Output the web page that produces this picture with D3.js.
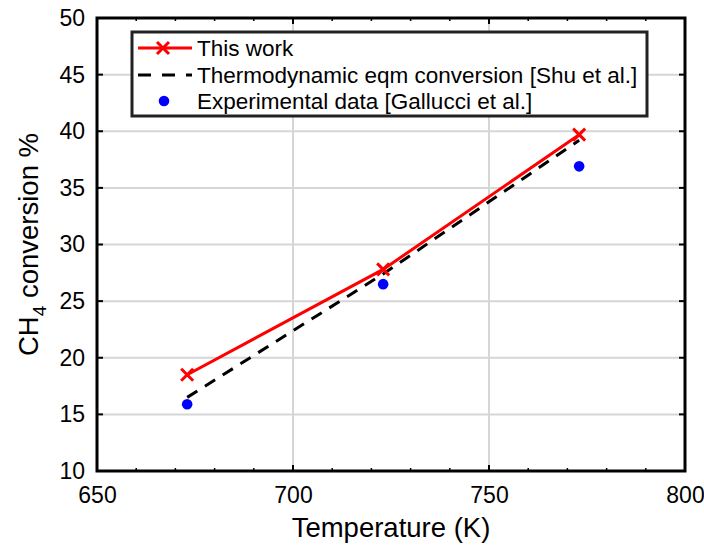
<!DOCTYPE html>
<html>
<head>
<meta charset="utf-8">
<script src="https://cdn.jsdelivr.net/npm/d3@7"></script>
<style>
  body { margin: 0; background: #fff; }
  svg { display: block; font-family: "Liberation Sans", Arial, sans-serif; }
</style>
</head>
<body>
<svg id="chart" width="704" height="546"></svg>
<script>
// Temperatures (K) and CH4 conversion (%)
const temperatures = [673, 723, 773];
const thisWork = [18.5, 27.8, 39.7];
const thermoEqm = [16.5, 27.4, 39.2];
const experimental = [15.9, 26.5, 36.9];

const xTicks = [650, 700, 750, 800];
const yTicks = [10, 15, 20, 25, 30, 35, 40, 45, 50];
const xMinorTicks = d3.range(650, 801, 10);

const legendLabels = [
  "This work",
  "Thermodynamic eqm conversion [Shu et al.]",
  "Experimental data [Gallucci et al.]"
];

const svg = d3.select("#chart");
const margin = { left: 97, right: 19, top: 18, bottom: 75 };
const W = 704, H = 546;
const x = d3.scaleLinear().domain([650, 800]).range([margin.left, W - margin.right]);
const y = d3.scaleLinear().domain([10, 50]).range([H - margin.bottom, margin.top]);

const g = svg.append("g");

// grid
g.selectAll(".gx").data(xTicks).join("line")
  .attr("x1", d => x(d)).attr("x2", d => x(d))
  .attr("y1", y(10)).attr("y2", y(50))
  .attr("stroke", "#d6d6d6").attr("stroke-width", 2);
g.selectAll(".gy").data(yTicks).join("line")
  .attr("y1", d => y(d)).attr("y2", d => y(d))
  .attr("x1", x(650)).attr("x2", x(800))
  .attr("stroke", "#d6d6d6").attr("stroke-width", 2);

// axes
const xAxis = d3.axisBottom(x).tickValues(xTicks).tickSize(0).tickPadding(16).tickFormat(d3.format("d"));
const yAxis = d3.axisLeft(y).tickValues(yTicks).tickSize(0).tickPadding(12).tickFormat(d3.format("d"));
const gx = g.append("g").attr("transform", `translate(0,${y(10)})`).call(xAxis);
const gy = g.append("g").attr("transform", `translate(${x(650)},0)`).call(yAxis);
[gx, gy].forEach(a => {
  a.select(".domain").remove();
  a.selectAll("text").attr("font-size", 23).attr("fill", "#000")
    .attr("font-family", "Liberation Sans, Arial, sans-serif");
});

// tick marks (inward) on all four sides
const tickLen = 6, minorLen = 3;
xTicks.forEach(t => {
  g.append("line").attr("x1", x(t)).attr("x2", x(t)).attr("y1", y(10)).attr("y2", y(10) - tickLen).attr("stroke", "#000").attr("stroke-width", 2);
  g.append("line").attr("x1", x(t)).attr("x2", x(t)).attr("y1", y(50)).attr("y2", y(50) + tickLen).attr("stroke", "#000").attr("stroke-width", 2);
});
xMinorTicks.forEach(t => {
  g.append("line").attr("x1", x(t)).attr("x2", x(t)).attr("y1", y(10)).attr("y2", y(10) - minorLen).attr("stroke", "#000").attr("stroke-width", 1.5);
  g.append("line").attr("x1", x(t)).attr("x2", x(t)).attr("y1", y(50)).attr("y2", y(50) + minorLen).attr("stroke", "#000").attr("stroke-width", 1.5);
});
yTicks.forEach(t => {
  g.append("line").attr("y1", y(t)).attr("y2", y(t)).attr("x1", x(650)).attr("x2", x(650) + tickLen).attr("stroke", "#000").attr("stroke-width", 2);
  g.append("line").attr("y1", y(t)).attr("y2", y(t)).attr("x1", x(800)).attr("x2", x(800) - tickLen).attr("stroke", "#000").attr("stroke-width", 2);
});

// frame
g.append("rect").attr("x", x(650)).attr("y", y(50))
  .attr("width", x(800) - x(650)).attr("height", y(10) - y(50))
  .attr("fill", "none").attr("stroke", "#000").attr("stroke-width", 3);

// series
const line = d3.line().x((d, i) => x(temperatures[i])).y(d => y(d));

g.append("path").datum(thermoEqm).attr("d", line)
  .attr("fill", "none").attr("stroke", "#000").attr("stroke-width", 3)
  .attr("stroke-dasharray", "12,9");

g.append("path").datum(thisWork).attr("d", line)
  .attr("fill", "none").attr("stroke", "#ff0000").attr("stroke-width", 3);

const cross = (sel, cx, cy, r) => {
  sel.append("path")
    .attr("d", `M${cx - r},${cy - r}L${cx + r},${cy + r}M${cx - r},${cy + r}L${cx + r},${cy - r}`)
    .attr("stroke", "#ff0000").attr("stroke-width", 3).attr("fill", "none");
};
thisWork.forEach((v, i) => cross(g, x(temperatures[i]), y(v), 6));

g.selectAll(".exp").data(experimental).join("circle")
  .attr("cx", (d, i) => x(temperatures[i])).attr("cy", d => y(d))
  .attr("r", 5.3).attr("fill", "#0000ff");

// legend
const lg = g.append("g");
lg.append("rect").attr("x", 132).attr("y", 32).attr("width", 515).attr("height", 84)
  .attr("fill", "#fff").attr("stroke", "#222").attr("stroke-width", 3);
const rowY = [48, 75, 101];
lg.append("line").attr("x1", 138).attr("x2", 192).attr("y1", rowY[0]).attr("y2", rowY[0])
  .attr("stroke", "#ff0000").attr("stroke-width", 3);
cross(lg, 163, rowY[0], 6);
lg.append("line").attr("x1", 138).attr("x2", 192).attr("y1", rowY[1]).attr("y2", rowY[1])
  .attr("stroke", "#000").attr("stroke-width", 3).attr("stroke-dasharray", "13,11");
lg.append("circle").attr("cx", 164).attr("cy", rowY[2]).attr("r", 5.3).attr("fill", "#0000ff");
legendLabels.forEach((t, i) => {
  lg.append("text").attr("x", 197).attr("y", rowY[i]).attr("dy", "0.35em")
    .attr("font-size", 22.5).attr("fill", "#000").text(t);
});

// axis labels
svg.append("text").attr("x", x(725)).attr("y", 537).attr("text-anchor", "middle")
  .attr("font-size", 27.5).text("Temperature (K)");

const yl = svg.append("text").attr("transform", `translate(38,${(y(10) + y(50)) / 2}) rotate(-90)`)
  .attr("text-anchor", "middle").attr("font-size", 27.5);
yl.append("tspan").text("CH");
yl.append("tspan").attr("font-size", 19).attr("dy", 8).text("4");
yl.append("tspan").attr("dy", -8).text(" conversion %");
</script>
</body>
</html>
